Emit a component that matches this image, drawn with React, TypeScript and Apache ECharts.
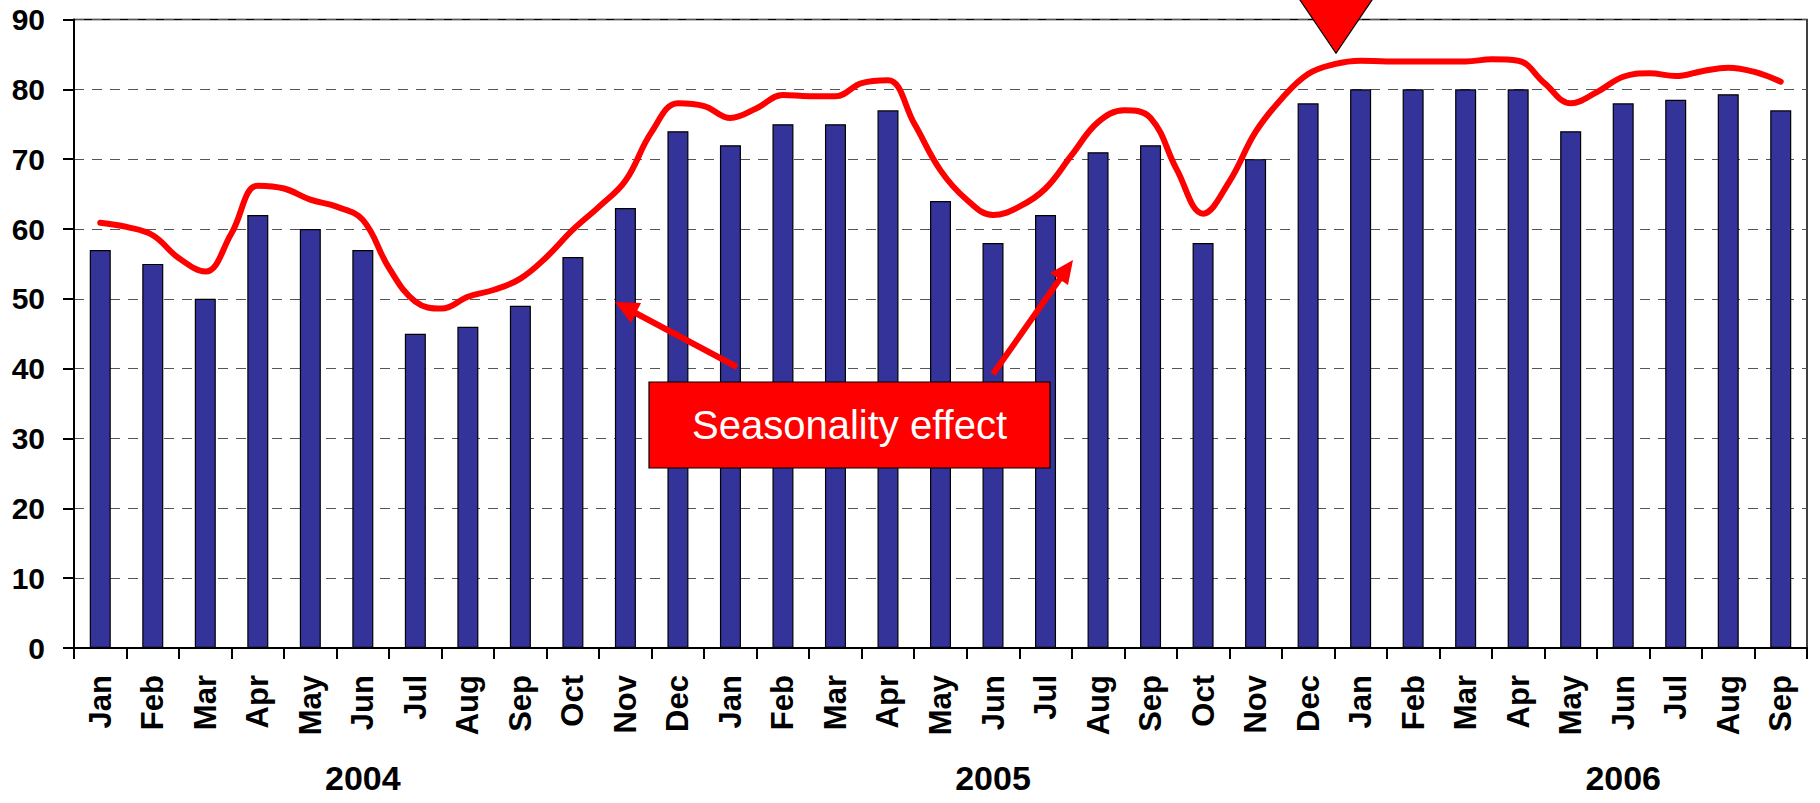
import React, { useEffect, useRef } from "react";
import * as echarts from "echarts";

const months = [
  "Jan", "Feb", "Mar", "Apr", "May", "Jun", "Jul", "Aug", "Sep", "Oct", "Nov", "Dec",
  "Jan", "Feb", "Mar", "Apr", "May", "Jun", "Jul", "Aug", "Sep", "Oct", "Nov", "Dec",
  "Jan", "Feb", "Mar", "Apr", "May", "Jun", "Jul", "Aug", "Sep",
];

const yearLabels = [
  "", "", "", "", "", "2004", "", "", "", "", "", "",
  "", "", "", "", "", "2005", "", "", "", "", "", "",
  "", "", "", "", "", "2006", "", "", "",
];

const barValues = [
  57, 55, 50, 62, 60, 57, 45, 46, 49, 56, 63, 74,
  72, 75, 75, 77, 64, 58, 62, 71, 72, 58, 70, 78,
  80, 80, 80, 80, 74, 78, 78.5, 79.3, 77,
];

// trend line sampled every half month (index 0, 0.5, 1, ... 32)
const trendHalfMonthly = [
  60.9, 60.3, 59.1, 55.8, 53.9, 59.4, 66.2, 65.8, 64.2, 63.2, 61.3, 54.4,
  49.6, 48.6, 50.3, 51.3, 52.9, 56.0, 59.9, 63.2, 66.9, 73.9, 78.0, 77.6,
  75.9, 77.3, 79.2, 79.0, 79.0, 80.9, 81.3, 75.1, 68.4, 64.2, 62.0, 63.2,
  65.8, 70.6, 75.3, 77.0, 75.9, 68.5, 62.2, 66.8, 73.9, 78.7, 82.2, 83.6,
  84.1, 84.0, 84.0, 84.0, 84.0, 84.3, 84.1, 80.9, 78.0, 79.6, 81.8, 82.3,
  81.9, 82.6, 83.1, 82.5, 81.1,
];

const yTicks = { min: 0, max: 90, interval: 10 };

const FONT = "'Liberation Sans', Arial, sans-serif";

export default function App() {
  const ref = useRef<HTMLDivElement>(null);

  useEffect(() => {
    if (!ref.current) return;
    const chart = echarts.init(ref.current, undefined, { renderer: "svg" });

    const trendData = trendHalfMonthly.map((v, i) => [i / 2, v]);
    const n = months.length;

    chart.setOption({
      animation: false,
      backgroundColor: "#ffffff",
      grid: {
        left: 74,
        right: 13,
        top: 19.5,
        bottom: 155,
        show: true,
        borderColor: "#000",
        borderWidth: 1.5,
        backgroundColor: "transparent",
      },
      xAxis: [
        {
          type: "category",
          data: months,
          boundaryGap: true,
          position: "bottom",
          axisLine: { show: true, onZero: false, lineStyle: { color: "#000", width: 2 } },
          axisTick: { show: true, length: 11, lineStyle: { color: "#000", width: 2 } },
          axisLabel: {
            interval: 0,
            rotate: 90,
            margin: 27,
            fontSize: 31,
            fontWeight: "bold",
            fontFamily: FONT,
            color: "#000",
          },
          splitLine: { show: false },
        },
        {
          type: "category",
          data: yearLabels,
          boundaryGap: true,
          position: "bottom",
          axisLine: { show: false, onZero: false },
          axisTick: { show: false },
          axisLabel: {
            interval: 0,
            margin: 113,
            fontSize: 34,
            fontWeight: "bold",
            fontFamily: FONT,
            color: "#000",
          },
          splitLine: { show: false },
        },
        {
          type: "value",
          min: -0.5,
          max: n - 0.5,
          show: false,
          axisLine: { onZero: false },
          splitLine: { show: false },
        },
      ],
      yAxis: {
        type: "value",
        min: yTicks.min,
        max: yTicks.max,
        interval: yTicks.interval,
        axisLine: { show: true, onZero: false, lineStyle: { color: "#000", width: 2 } },
        axisTick: { show: true, length: 11, lineStyle: { color: "#000", width: 2 } },
        axisLabel: {
          margin: 29,
          fontSize: 30,
          fontWeight: "bold",
          fontFamily: FONT,
          color: "#000",
        },
        splitLine: {
          show: true,
          lineStyle: { color: "#555", width: 1.2, type: [10, 8] },
        },
      },
      series: [
        {
          type: "bar",
          xAxisIndex: 0,
          data: barValues,
          barWidth: 21,
          itemStyle: { color: "#333399", borderColor: "#000", borderWidth: 1.2 },
          z: 2,
        },
        {
          type: "line",
          xAxisIndex: 2,
          data: trendData,
          smooth: 0.4,
          showSymbol: false,
          symbol: "none",
          lineStyle: { color: "#ff0000", width: 6, cap: "round", join: "round" },
          z: 3,
        },
      ],
      graphic: [
        {
          type: "line",
          shape: { x1: 737, y1: 367, x2: 628, y2: 309 },
          style: { stroke: "#ff0000", lineWidth: 6 },
          z: 10,
        },
        {
          type: "polygon",
          shape: { points: [[615, 302], [631, 323], [641, 303]] },
          style: { fill: "#ff0000" },
          z: 10,
        },
        {
          type: "line",
          shape: { x1: 993, y1: 374, x2: 1064, y2: 273 },
          style: { stroke: "#ff0000", lineWidth: 6 },
          z: 10,
        },
        {
          type: "polygon",
          shape: { points: [[1073, 260], [1050, 273], [1068, 285]] },
          style: { fill: "#ff0000" },
          z: 10,
        },
        {
          type: "rect",
          shape: { x: 649, y: 382, width: 401, height: 86 },
          style: { fill: "#ff0000", stroke: "#000", lineWidth: 1.2 },
          z: 10,
        },
        {
          type: "text",
          x: 849.5,
          y: 425,
          style: {
            text: "Seasonality effect",
            fill: "#ffffff",
            fontSize: 40,
            fontFamily: FONT,
            align: "center",
            verticalAlign: "middle",
          },
          z: 11,
        },
        {
          type: "polygon",
          shape: { points: [[1296.6, -5], [1375.4, -5], [1336, 53.3]] },
          style: { fill: "#ff0000", stroke: "#000", lineWidth: 1.2 },
          z: 10,
        },
      ],
    });

    return () => chart.dispose();
  }, []);

  return (
    <div
      ref={ref}
      style={{ position: "fixed", left: 0, top: 0, width: 1820, height: 803, background: "#fff" }}
    />
  );
}
